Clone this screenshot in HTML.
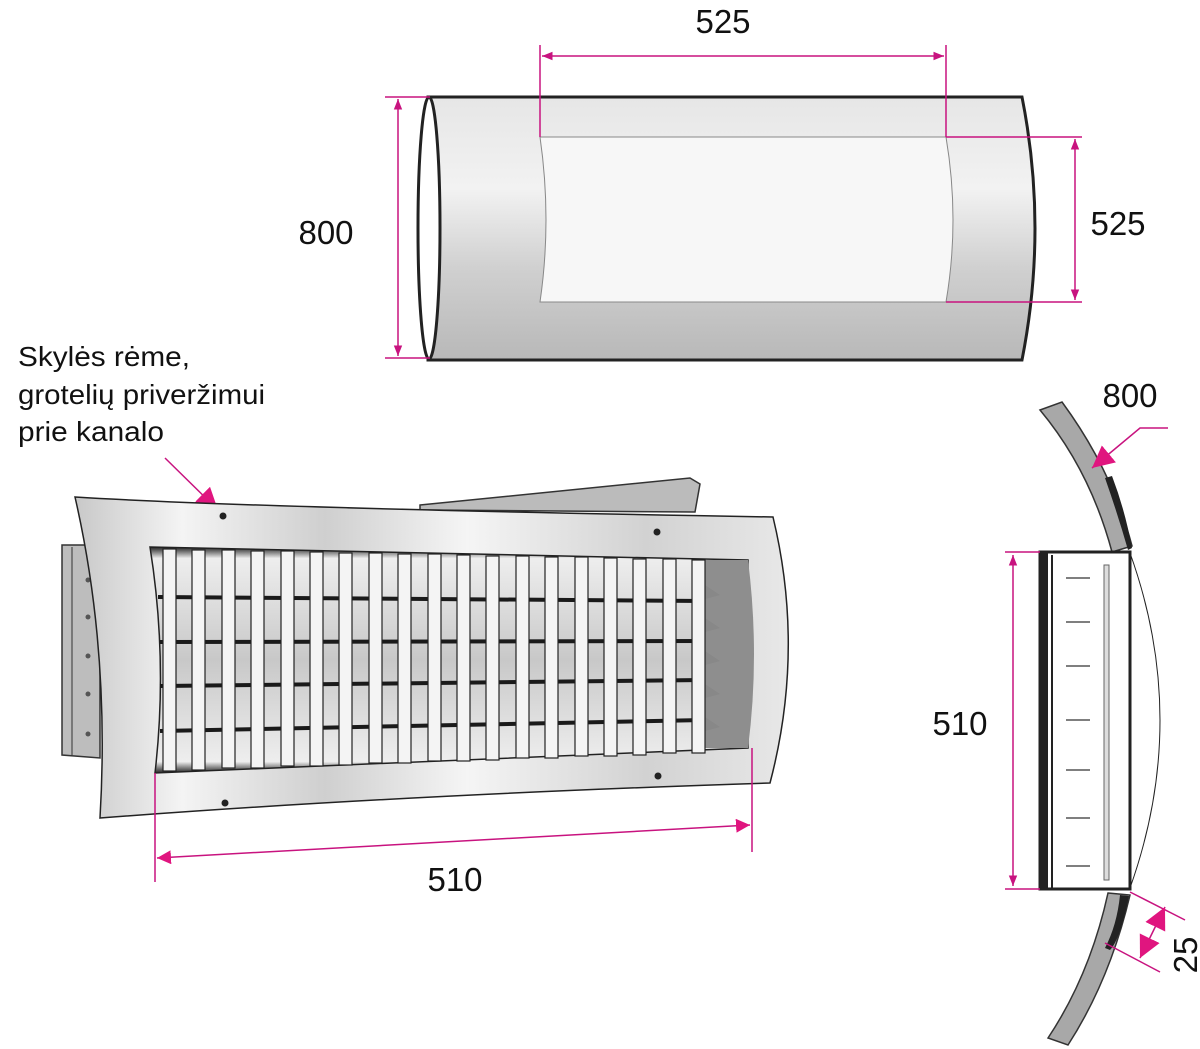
<!DOCTYPE html>
<html><head><meta charset="utf-8"><style>
html,body{margin:0;padding:0;background:#fff;}
svg{display:block;}
text{font-family:"Liberation Sans",sans-serif;fill:#111;}
</style></head><body>
<svg width="1200" height="1049" viewBox="0 0 1200 1049" xmlns="http://www.w3.org/2000/svg">
<defs>
<linearGradient id="cyl" x1="0" y1="0" x2="0" y2="1">
<stop offset="0" stop-color="#e6e6e6"/><stop offset="0.35" stop-color="#f2f2f2"/><stop offset="0.65" stop-color="#d0d0d0"/><stop offset="1" stop-color="#b8b8b8"/></linearGradient>
<linearGradient id="frm" x1="0" y1="0" x2="1" y2="0">
<stop offset="0" stop-color="#c8c8c8"/><stop offset="0.15" stop-color="#f4f4f4"/><stop offset="0.35" stop-color="#cfcfcf"/><stop offset="0.55" stop-color="#f5f5f5"/><stop offset="0.8" stop-color="#d2d2d2"/><stop offset="1" stop-color="#e8e8e8"/></linearGradient>
<linearGradient id="hole" x1="0" y1="0" x2="0" y2="1">
<stop offset="0" stop-color="#222"/><stop offset="0.05" stop-color="#eee"/><stop offset="0.5" stop-color="#c8c8c8"/><stop offset="0.95" stop-color="#eee"/><stop offset="1" stop-color="#222"/></linearGradient>
<marker id="ar" viewBox="0 0 10 10" refX="10" refY="5" markerWidth="7" markerHeight="7" orient="auto-start-reverse"><path d="M0,1 L10,5 L0,9 z" fill="#c8137f"/></marker>
<marker id="arB" viewBox="0 0 10 10" refX="10" refY="5" markerWidth="14" markerHeight="14" markerUnits="userSpaceOnUse" orient="auto-start-reverse"><path d="M0,0 L10,5 L0,10 z" fill="#e0157f"/></marker>
<marker id="arC" viewBox="0 0 10 10" refX="10" refY="5" markerWidth="22" markerHeight="22" markerUnits="userSpaceOnUse" orient="auto-start-reverse"><path d="M0,0 L10,5 L0,10 z" fill="#e0157f"/></marker>
</defs>

<!-- TOP CYLINDER -->
<path d="M428,97 L1022,97 Q1048,228 1022,360 L428,360 Z" fill="url(#cyl)" stroke="#222" stroke-width="3"/>
<ellipse cx="429" cy="228" rx="11" ry="131" fill="#fff" stroke="#222" stroke-width="3"/>
<path d="M540,137 L946,137 Q960,220 946,302 L540,302 Q552,220 540,137 Z" fill="#f7f7f7" stroke="#888" stroke-width="1"/>
<g stroke="#c8137f" stroke-width="1.5" fill="none">
<line x1="540" y1="45" x2="540" y2="137"/><line x1="946" y1="45" x2="946" y2="137"/>
<line x1="542" y1="56" x2="944" y2="56" marker-start="url(#ar)" marker-end="url(#ar)"/>
<line x1="385" y1="97" x2="430" y2="97"/><line x1="385" y1="358" x2="430" y2="358"/>
<line x1="398" y1="99" x2="398" y2="356" marker-start="url(#ar)" marker-end="url(#ar)"/>
<line x1="946" y1="137" x2="1082" y2="137"/><line x1="946" y1="302" x2="1082" y2="302"/>
<line x1="1075" y1="139" x2="1075" y2="300" marker-start="url(#ar)" marker-end="url(#ar)"/>
</g>
<text x="723" y="33" font-size="33" text-anchor="middle">525</text>
<text x="326" y="244" font-size="33" text-anchor="middle">800</text>
<text x="1118" y="235" font-size="33" text-anchor="middle">525</text>

<!-- LABEL -->
<text x="18" y="366" font-size="28" textLength="172" lengthAdjust="spacingAndGlyphs">Skylės rėme,</text>
<text x="18" y="404" font-size="28" textLength="247" lengthAdjust="spacingAndGlyphs">grotelių priveržimui</text>
<text x="18" y="441" font-size="28" textLength="146" lengthAdjust="spacingAndGlyphs">prie kanalo</text>
<line x1="165" y1="458" x2="218" y2="510" stroke="#c8137f" stroke-width="1.5" marker-end="url(#arC)"/>

<!-- GRILLE -->
<path d="M62,545 L100,545 L100,758 L62,755 Z" fill="#bdbdbd" stroke="#333" stroke-width="1.5"/>
<line x1="72" y1="547" x2="72" y2="755" stroke="#333"/>
<g fill="#555"><circle cx="88" cy="580" r="2.5"/><circle cx="88" cy="617" r="2.5"/><circle cx="88" cy="656" r="2.5"/><circle cx="88" cy="694" r="2.5"/><circle cx="88" cy="734" r="2.5"/></g>
<path d="M420,505 L690,478 L700,484 L695,512 L420,510 Z" fill="#bbb" stroke="#333" stroke-width="1.5"/>
<path d="M75,497 Q250,508 773,517 Q805,650 770,783 Q400,795 100,818 Q110,650 75,497 Z" fill="url(#frm)" stroke="#222" stroke-width="1.5"/>
<path d="M150,547 L748,560 L748,748 L155,773 Q168,660 150,547 Z" fill="url(#hole)" stroke="#222" stroke-width="1.5"/>
<path d="M705,560 L748,560 Q760,655 748,748 L705,748 Z" fill="#8e8e8e"/>
<g fill="#888"><path d="M705,585 l15,10 l-15,4z"/><path d="M705,618 l15,10 l-15,4z"/><path d="M705,651 l15,10 l-15,4z"/><path d="M705,684 l15,10 l-15,4z"/><path d="M705,717 l15,10 l-15,4z"/></g>
<g stroke="#1a1a1a" stroke-width="4">
<line x1="158" y1="597" x2="705" y2="601"/><line x1="160" y1="642" x2="705" y2="641"/><line x1="160" y1="686" x2="705" y2="680"/><line x1="160" y1="731" x2="705" y2="720"/>
</g>
<g fill="#f4f4f4" stroke="#222" stroke-width="1.2">
<rect x="163" y="549" width="13" height="222"/><rect x="192" y="550" width="13" height="220"/><rect x="222" y="550" width="13" height="218"/><rect x="251" y="551" width="13" height="217"/><rect x="281" y="551" width="13" height="215"/><rect x="310" y="552" width="13" height="214"/><rect x="339" y="553" width="13" height="212"/><rect x="369" y="553" width="13" height="210"/><rect x="398" y="554" width="13" height="209"/><rect x="428" y="554" width="13" height="207"/><rect x="457" y="555" width="13" height="206"/><rect x="486" y="556" width="13" height="204"/><rect x="516" y="556" width="13" height="202"/><rect x="545" y="557" width="13" height="201"/><rect x="575" y="557" width="13" height="199"/><rect x="604" y="558" width="13" height="198"/><rect x="633" y="559" width="13" height="196"/><rect x="663" y="559" width="13" height="194"/><rect x="692" y="560" width="13" height="193"/>
</g>
<g fill="#222"><circle cx="223" cy="516" r="3.5"/><circle cx="657" cy="532" r="3.5"/><circle cx="658" cy="776" r="3.5"/><circle cx="225" cy="803" r="3.5"/></g>
<g stroke="#c8137f" stroke-width="1.5" fill="none">
<line x1="155" y1="773" x2="155" y2="882"/><line x1="752" y1="748" x2="752" y2="852"/>
<line x1="157" y1="858" x2="750" y2="825" marker-start="url(#arB)" marker-end="url(#arB)"/>
</g>
<text x="455" y="891" font-size="33" text-anchor="middle">510</text>

<!-- SIDE SECTION -->
<path d="M1040,410 L1062,402 Q1112,470 1132,546 L1112,552 Q1090,470 1040,410 Z" fill="#a8a8a8" stroke="#333" stroke-width="1.5"/>
<path d="M1105,478 L1112,476 Q1125,510 1132,548 L1128,550 Q1118,515 1105,478 Z" fill="#222"/>
<path d="M1108,893 L1130,895 Q1110,980 1068,1045 L1048,1038 Q1090,975 1108,893 Z" fill="#a8a8a8" stroke="#333" stroke-width="1.5"/>
<path d="M1120,895 L1129,896 Q1120,940 1110,950 L1105,948 Q1117,925 1120,895 Z" fill="#222"/>
<path d="M1130,553 Q1190,720 1130,888" fill="none" stroke="#222" stroke-width="1"/>
<rect x="1040" y="553" width="8" height="336" fill="#222"/>
<rect x="1040" y="552" width="90" height="337" fill="none" stroke="#222" stroke-width="3"/>
<line x1="1052" y1="555" x2="1052" y2="888" stroke="#222" stroke-width="2"/>
<rect x="1104" y="565" width="5" height="315" fill="#ddd" stroke="#666" stroke-width="1"/>
<g stroke="#333" stroke-width="1.2" fill="none">
<path d="M1066,578 h24"/><path d="M1066,622 h24"/><path d="M1066,666 h24"/><path d="M1066,720 h24"/><path d="M1066,770 h24"/><path d="M1066,818 h24"/><path d="M1066,866 h24"/>
</g>
<g stroke="#c8137f" stroke-width="1.5" fill="none">
<line x1="1005" y1="552" x2="1040" y2="552"/><line x1="1005" y1="889" x2="1040" y2="889"/>
<line x1="1013" y1="555" x2="1013" y2="886" marker-start="url(#ar)" marker-end="url(#ar)"/>
<polyline points="1168,428 1140,428 1092,468" marker-end="url(#arC)"/>
<line x1="1130" y1="892" x2="1185" y2="920"/><line x1="1105" y1="943" x2="1160" y2="972"/>
<line x1="1165" y1="907" x2="1140" y2="958" marker-start="url(#arC)" marker-end="url(#arC)"/>
</g>
<text x="1130" y="407" font-size="33" text-anchor="middle">800</text>
<text x="960" y="735" font-size="33" text-anchor="middle">510</text>
<text x="0" y="0" font-size="33" text-anchor="middle" transform="translate(1197,955) rotate(-90)">25</text>
</svg>
</body></html>
